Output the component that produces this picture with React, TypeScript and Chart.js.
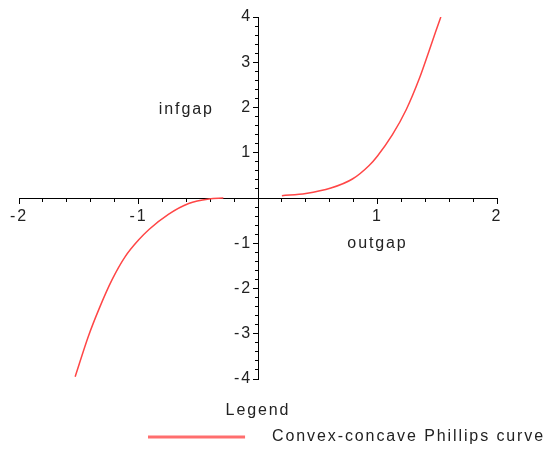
import React, { useEffect, useRef } from 'react';
import { Chart, registerables } from 'chart.js';

Chart.register(...registerables);

// ---- data ----
const NEG_X = [-1.53, -1.42, -1.33, -1.22, -1.11, -1.0, -0.91, -0.75, -0.58, -0.41, -0.29];
const NEG_Y = [-3.95, -3.06, -2.45, -1.8, -1.29, -0.93, -0.69, -0.36, -0.12, -0.02, 0.0];
const POS_X = [0.2, 0.4, 0.61, 0.79, 0.93, 1.0, 1.125, 1.24, 1.35, 1.43, 1.49, 1.53];
const POS_Y = [0.05, 0.1, 0.22, 0.42, 0.72, 0.93, 1.4, 1.95, 2.64, 3.24, 3.7, 4.0];
const X_MAJOR = [-2, -1, 1, 2];
const Y_MAJOR = [-4, -3, -2, -1, 1, 2, 3, 4];
const SERIES_LABEL = 'Convex-concave Phillips curve';
const LEGEND_TITLE = 'Legend';
const X_TITLE = 'outgap';
const Y_TITLE = 'infgap';

// ---- styles ----
const FONT_FAMILY = '"Liberation Sans", Arial, Helvetica, sans-serif';
const FONT_SIZE = 16;
const TEXT = '#222222';
const CURVE = 'rgb(255, 70, 70)';
const LEGEND_LINE = 'rgb(255, 110, 110)';
const LETTER_SPACING = '1.9px';

Chart.defaults.font.family = FONT_FAMILY;
Chart.defaults.font.size = FONT_SIZE;
Chart.defaults.color = TEXT;

export default function App() {
  const ref = useRef<HTMLCanvasElement>(null);

  useEffect(() => {
    document.body.style.margin = '0';
    const canvas = ref.current!;

    const swatch = document.createElement('canvas');
    swatch.width = 116;
    swatch.height = 4;
    const sctx = swatch.getContext('2d')!;
    sctx.fillStyle = LEGEND_LINE;
    sctx.fillRect(0, 0.5, 97, 3);

    const points: any[] = [
      ...NEG_X.map((x, i) => ({ x, y: NEG_Y[i] })),
      { x: 0, y: null },
      ...POS_X.map((x, i) => ({ x, y: POS_Y[i] })),
    ];

    const spacingPlugin = {
      id: 'spacing',
      beforeUpdate(c: any) { (c.ctx as any).letterSpacing = LETTER_SPACING; },
      beforeDraw(c: any) { (c.ctx as any).letterSpacing = LETTER_SPACING; },
    };

    const axisTitles = [
      { text: X_TITLE, x: 1.0, y: -1.0 },
      { text: Y_TITLE, x: -0.6, y: 1.95 },
    ];
    const axisTitlePlugin = {
      id: 'axisTitles',
      afterDraw(c: any) {
        const { ctx, scales } = c;
        ctx.save();
        ctx.letterSpacing = LETTER_SPACING;
        ctx.font = `${FONT_SIZE}px ${FONT_FAMILY}`;
        ctx.fillStyle = TEXT;
        ctx.textAlign = 'center';
        ctx.textBaseline = 'middle';
        for (const t of axisTitles) {
          ctx.fillText(t.text, scales.x.getPixelForValue(t.x), scales.y.getPixelForValue(t.y));
        }
        ctx.restore();
      },
    };

    const tickFont = { family: FONT_FAMILY, size: FONT_SIZE };

    // the axis ranges are symmetric, so 'center' places each axis through the origin
    const majorX = {
      type: 'linear', axis: 'x', position: 'center', min: -2, max: 2,
      afterBuildTicks: (s: any) => { s.ticks = X_MAJOR.map((value) => ({ value })); },
      ticks: { autoSkip: false, maxRotation: 0, color: TEXT, font: tickFont, padding: 4, callback: (v: any) => String(v) },
      grid: { drawOnChartArea: false, tickLength: 5, tickColor: '#000', tickWidth: 1 },
      border: { display: true, color: '#000', width: 1 },
    };
    const minorX = {
      type: 'linear', axis: 'x', position: 'center', min: -2, max: 2,
      ticks: { stepSize: 0.2, autoSkip: false, display: false },
      grid: { drawOnChartArea: false, tickLength: 3, tickColor: '#000', tickWidth: 1 },
      border: { display: false },
    };
    const majorY = {
      type: 'linear', axis: 'y', position: 'center', min: -4, max: 4,
      afterBuildTicks: (s: any) => { s.ticks = Y_MAJOR.map((value) => ({ value })); },
      ticks: { autoSkip: false, color: TEXT, font: tickFont, padding: 1, callback: (v: any) => String(v) },
      grid: { drawOnChartArea: false, tickLength: 5, tickColor: '#000', tickWidth: 1 },
      border: { display: true, color: '#000', width: 1 },
    };
    const minorY = {
      type: 'linear', axis: 'y', position: 'center', min: -4, max: 4,
      ticks: { stepSize: 0.2, autoSkip: false, display: false },
      grid: { drawOnChartArea: false, tickLength: 3, tickColor: '#000', tickWidth: 1 },
      border: { display: false },
    };
    // empty right-hand gutter so the legend can still reach the right edge
    const gutter = {
      type: 'linear', axis: 'y', position: 'right', display: true,
      ticks: { display: false },
      grid: { display: false, drawTicks: false },
      border: { display: false },
      afterFit: (s: any) => { s.width = 50; },
    };

    const chart = new Chart(canvas, {
      type: 'line',
      data: {
        datasets: [
          {
            label: SERIES_LABEL,
            data: points,
            borderColor: CURVE,
            backgroundColor: CURVE,
            borderWidth: 1.5,
            pointRadius: 0,
            pointHoverRadius: 0,
            cubicInterpolationMode: 'monotone',
            spanGaps: false,
            fill: false,
            xAxisID: 'x',
            yAxisID: 'y',
          },
        ],
      },
      options: {
        responsive: false,
        animation: false,
        events: [],
        layout: { padding: { left: 19, right: 0, top: 17, bottom: 0 } },
        scales: { x: majorX, xm: minorX, y: majorY, ym: minorY, gutter } as any,
        plugins: {
          tooltip: { enabled: false },
          title: {
            display: true,
            text: LEGEND_TITLE,
            position: 'bottom',
            weight: 500,
            fullSize: false,
            color: TEXT,
            font: { family: FONT_FAMILY, size: FONT_SIZE, weight: 'normal' },
            padding: { top: 22.4, bottom: 6.4 },
          },
          legend: {
            display: true,
            position: 'bottom',
            align: 'end',
            maxHeight: 23,
            labels: {
              usePointStyle: true,
              pointStyle: swatch,
              pointStyleWidth: 116,
              padding: 2,
              color: TEXT,
              font: { family: FONT_FAMILY, size: FONT_SIZE },
            },
          } as any,
        },
      } as any,
      plugins: [spacingPlugin, axisTitlePlugin],
    } as any);

    return () => chart.destroy();
  }, []);

  return (
    <div style={{ width: 547, height: 450 }}>
      <canvas ref={ref} width={547} height={450} style={{ display: 'block' }} />
    </div>
  );
}
